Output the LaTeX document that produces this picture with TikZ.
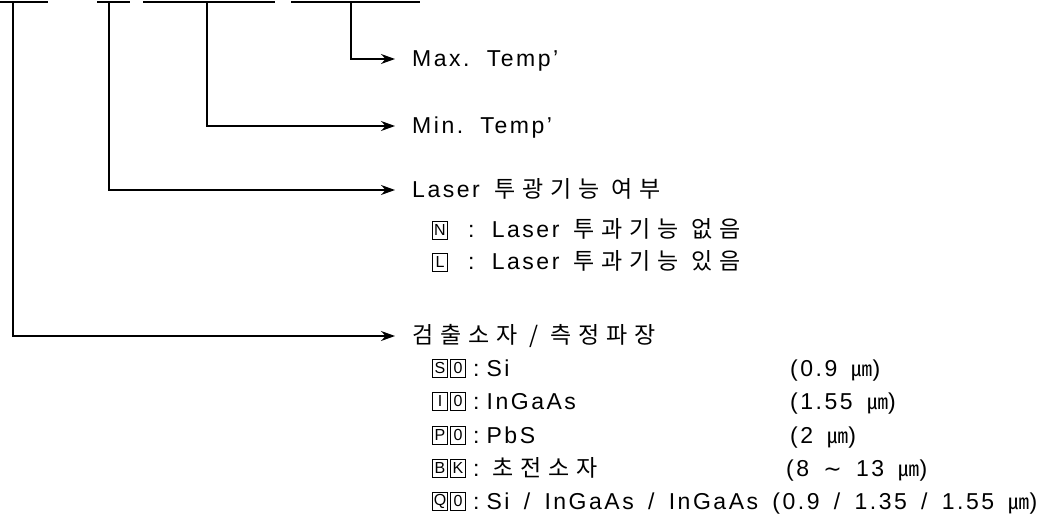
\documentclass[tikz,border=0pt]{standalone}
\usepackage{fontspec}
\setmainfont{Liberation Sans}[LetterSpace=11,WordSpace=1.6]
\newfontfamily\kofont{Noto Sans CJK KR}[LetterSpace=30]
\newfontfamily\kosym{Noto Sans CJK KR}
\newfontfamily\dvsym{DejaVu Sans}
\newcommand\K[1]{{\kofont\fontsize{23}{25}\selectfont #1}}
\newcommand\um{{\kosym\fontsize{21}{23}\selectfont ㎛}}
\newcommand\tld{{\dvsym\fontsize{22}{24}\selectfont ∼}}
\newcommand\cs{:\hspace{7pt}}
\usetikzlibrary{arrows.meta}
\begin{document}
\begin{tikzpicture}[x=1pt,y=-1pt,
  topline/.style={line width=2pt},
  conn/.style={line width=1.5pt,-{Stealth[length=14pt,width=10pt]},shorten >=17pt},
  txt/.style={anchor=west,inner xsep=0pt,inner ysep=0pt,text height=16pt,text depth=0pt,
    font=\fontsize{23}{25}\selectfont},
  bx/.style={draw,line width=0.8pt,minimum width=15pt,minimum height=18pt,inner sep=0pt,
    font=\fontsize{16}{17}\selectfont}]
\useasboundingbox (0,0) rectangle (1057,518);
% code underlines
\draw[topline] (0,2) -- (48,2);
\draw[topline] (97,2) -- (130,2);
\draw[topline] (143,2) -- (275,2);
\draw[topline] (291,2) -- (420,2);
\coordinate (c1) at (13,2);
\coordinate (c2) at (109,2);
\coordinate (c3) at (207,2);
\coordinate (c4) at (351,2);
% titles
\node[txt] (tmax) at (412,59) {Max. Temp’};
\node[txt] (tmin) at (412,126) {Min. Temp’};
\node[txt] (tlaser) at (412,190) {Laser \K{투광기능 여부}};
\node[txt] (tdet) at (412,336) {\K{검출소자 / 측정파장}};
% connectors
\draw[conn] (c4) |- (tmax.west);
\draw[conn] (c3) |- (tmin.west);
\draw[conn] (c2) |- (tlaser.west);
\draw[conn] (c1) |- (tdet.west);
% laser options
\node[bx] (bN) at (440,230) {N};
\node[txt] (oN) at (468,230) {: Laser \K{투과기능 없음}};
\node[bx] (bL) at (440,262) {L};
\node[txt] (oL) at (468,262) {: Laser \K{투과기능 있음}};
% detector options
\node[bx] (bS) at (440,368) {S};
\node[bx] (bS0) at (458,368) {0};
\node[txt] (oS) at (473,368) {\cs Si};
\node[txt] (wS) at (790,368) {(0.9 \um)};
\node[bx] (bI) at (440,401) {I};
\node[bx] (bI0) at (458,401) {0};
\node[txt] (oI) at (473,401) {\cs InGaAs};
\node[txt] (wI) at (790,401) {(1.55 \um)};
\node[bx] (bP) at (440,435) {P};
\node[bx] (bP0) at (458,435) {0};
\node[txt] (oP) at (473,435) {\cs PbS};
\node[txt] (wP) at (790,435) {(2 \um)};
\node[bx] (bB) at (440,468) {B};
\node[bx] (bK) at (458,468) {K};
\node[txt] (oB) at (473,468) {\cs\hspace{6pt}\K{초전소자}};
\node[txt] (wB) at (786,468) {(8 \tld{} 13 \um)};
\node[bx] (bQ) at (440,501) {Q};
\node[bx] (bQ0) at (458,501) {0};
\node[txt] (oQ) at (473,501) {\cs Si / InGaAs / InGaAs (0.9 / 1.35 / 1.55 \um)};
\end{tikzpicture}
\end{document}
